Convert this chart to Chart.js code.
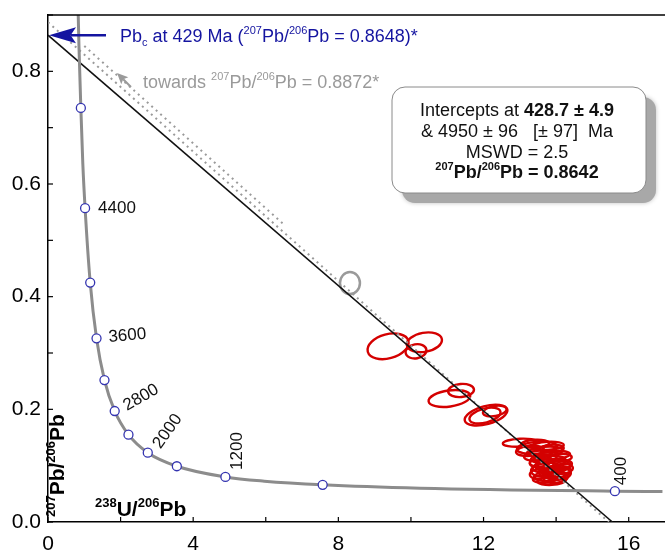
<!DOCTYPE html>
<html>
<head>
<meta charset="utf-8">
<script src="https://cdn.jsdelivr.net/npm/chart.js@4.4.0/dist/chart.umd.min.js"></script>
<style>
  html, body { margin: 0; padding: 0; background: #fff; }
</style>
</head>
<body>
<canvas id="twChart" width="665" height="553"></canvas>
<script>
// concordia curve (238U/206Pb vs 207Pb/206Pb)
const concX = [0.806, 0.853, 0.905, 0.960, 1.022, 1.163, 1.337, 1.556, 1.838, 2.217, 2.749, 3.550, 4.888, 5.959, 7.568, 10.25, 15.62, 16.93];
const concY = [0.974, 0.845, 0.735, 0.635, 0.557, 0.425, 0.326, 0.252, 0.197, 0.155, 0.123, 0.099, 0.080, 0.0725, 0.066, 0.060, 0.0547, 0.0540];

// age markers on the concordia (Ma)
const markerAge = [4800, 4400, 4000, 3600, 3200, 2800, 2400, 2000, 1600, 1200, 800, 400];
const markerX = [0.905, 1.022, 1.163, 1.337, 1.556, 1.838, 2.217, 2.749, 3.550, 4.888, 7.568, 15.62];
const markerY = [0.735, 0.557, 0.425, 0.326, 0.252, 0.197, 0.155, 0.123, 0.099, 0.080, 0.066, 0.0547];

// regression line and the dotted alternative
const discX = [0, 15.55];
const discY = [0.8642, 0];
const altX = [0, 15.45];
const altY = [0.8872, 0];
const alt2X = [1.0, 6.5];
const alt2Y = [0.845, 0.528];

// error ellipses: centre, semi-axes (data units), tilt (deg)
const ellX  = [9.37, 10.37, 10.14, 11.06, 11.38, 12.07, 12.04, 12.31,
               13.00, 13.47, 13.69, 13.50, 13.88, 13.77, 13.88, 13.72, 13.97, 13.83, 13.69, 14.05, 13.99, 13.55, 14.10,
               13.42, 13.77, 13.28, 13.97, 13.66, 14.16, 13.55, 13.88, 13.77, 14.05, 13.69];
const ellY  = [0.3119, 0.3191, 0.3030, 0.2193, 0.2335, 0.1898, 0.1889, 0.1970,
               0.1408, 0.1319, 0.1248, 0.1176, 0.1301, 0.1070, 0.0980, 0.0927, 0.0891, 0.0820, 0.0766, 0.1016, 0.0784, 0.1052, 0.1141,
               0.1388, 0.1352, 0.1263, 0.1192, 0.1121, 0.0943, 0.0854, 0.0730, 0.0979, 0.0854, 0.1032];
const ellRX = [0.579, 0.490, 0.289, 0.579, 0.358, 0.606, 0.440, 0.330,
               0.468, 0.551, 0.496, 0.386, 0.330, 0.496, 0.523, 0.413, 0.441, 0.441, 0.330, 0.386, 0.330, 0.275, 0.330,
               0.386, 0.441, 0.386, 0.413, 0.358, 0.303, 0.275, 0.386, 0.330, 0.358, 0.248];
const ellRY = [0.0214, 0.0169, 0.0125, 0.0143, 0.0116, 0.0160, 0.0125, 0.0089,
               0.0071, 0.0107, 0.0089, 0.0089, 0.0071, 0.0107, 0.0107, 0.0125, 0.0107, 0.0089, 0.0071, 0.0089, 0.0089, 0.0071, 0.0071,
               0.0071, 0.0071, 0.0089, 0.0071, 0.0071, 0.0089, 0.0089, 0.0071, 0.0071, 0.0107, 0.0089];
const ellRot = [-15, -10, -10, -8, -5, -15, -15, -10,
                -3, -5, -5, -5, -3, -5, -5, -5, -5, -5, -3, -5, -5, -3, -3,
                -3, -3, -5, -3, -3, -5, -5, -3, -3, -5, -5];

// excluded analysis (grey)
const greyX = [8.32];
const greyY = [0.4242];
const greyRX = [0.275];
const greyRY = [0.0196];

const FONT = '"Liberation Sans", Arial, sans-serif';

// where the age labels sit relative to their marker
const ageLabelStyle = {
    4400: { dx: 13, dy: 0, rot: 0 },
    3600: { dx: 12, dy: -1, rot: -5 },
    2800: { dx: 10, dy: -4, rot: -30 },
    2000: { dx: 9, dy: -6, rot: -55 },
    1200: { dx: 12, dy: -7, rot: -90 },
    400: { dx: 6, dy: -6, rot: -90 }
};

function toPts(xs, ys) {
    return xs.map((x, i) => ({ x: x, y: ys[i] }));
}

// draw text made of pieces, some superscript / subscript / bold
function richText(ctx, x, y, parts, size, color, align) {
    const fontFor = p => {
        const s = (p.sup || p.sub) ? Math.round(size * 0.62) : size;
        return (p.b ? 'bold ' : '') + s + 'px ' + FONT;
    };
    let total = 0;
    parts.forEach(p => { ctx.font = fontFor(p); total += ctx.measureText(p.t).width; });
    let cx = x;
    if (align === 'center') cx = x - total / 2;
    if (align === 'right') cx = x - total;
    ctx.fillStyle = color;
    ctx.textAlign = 'left';
    ctx.textBaseline = 'alphabetic';
    parts.forEach(p => {
        ctx.font = fontFor(p);
        let oy = 0;
        if (p.sup) oy = -size * 0.42;
        if (p.sub) oy = size * 0.22;
        ctx.fillText(p.t, cx, y + oy);
        cx += ctx.measureText(p.t).width;
    });
}

function arrow(ctx, x1, y1, x2, y2, head, half, color, width) {
    const a = Math.atan2(y2 - y1, x2 - x1);
    ctx.save();
    ctx.strokeStyle = color;
    ctx.fillStyle = color;
    ctx.lineWidth = width;
    ctx.beginPath();
    ctx.moveTo(x1, y1);
    ctx.lineTo(x2 - Math.cos(a) * head * 0.8, y2 - Math.sin(a) * head * 0.8);
    ctx.stroke();
    ctx.translate(x2, y2);
    ctx.rotate(a);
    ctx.beginPath();
    ctx.moveTo(0, 0);
    ctx.lineTo(-head, -half);
    ctx.lineTo(-head * 0.8, 0);
    ctx.lineTo(-head, half);
    ctx.closePath();
    ctx.fill();
    ctx.restore();
}

const ellipsePlugin = {
    id: 'ellipses',
    beforeDatasetsDraw(chart) {
        const ctx = chart.ctx;
        const xs = chart.scales.x, ys = chart.scales.y;
        const area = chart.chartArea;
        const drawSet = (cx, cy, rx, ry, rot, color, w) => {
            ctx.save();
            ctx.beginPath();
            ctx.rect(area.left, area.top, area.right - area.left, area.bottom - area.top);
            ctx.clip();
            ctx.strokeStyle = color;
            ctx.lineWidth = w;
            for (let i = 0; i < cx.length; i++) {
                const px = xs.getPixelForValue(cx[i]);
                const py = ys.getPixelForValue(cy[i]);
                const prx = Math.abs(xs.getPixelForValue(cx[i] + rx[i]) - px);
                const pry = Math.abs(ys.getPixelForValue(cy[i] + ry[i]) - py);
                ctx.beginPath();
                ctx.ellipse(px, py, prx, pry, (rot ? rot[i] : 0) * Math.PI / 180, 0, Math.PI * 2);
                ctx.stroke();
            }
            ctx.restore();
        };
        drawSet(greyX, greyY, greyRX, greyRY, null, '#9a9a9a', 2.5);
        drawSet(ellX, ellY, ellRX, ellRY, ellRot, '#d40000', 2.4);
    }
};

const framePlugin = {
    id: 'frame',
    afterDraw(chart) {
        const ctx = chart.ctx;
        const a = chart.chartArea;
        const xs = chart.scales.x, ys = chart.scales.y;
        ctx.save();
        ctx.strokeStyle = '#000';
        ctx.lineWidth = 1.5;
        // top border
        ctx.beginPath();
        ctx.moveTo(a.left, a.top);
        ctx.lineTo(a.right, a.top);
        ctx.stroke();
        // inward tick marks
        ctx.lineWidth = 1.2;
        xs.ticks.forEach(t => {
            const px = xs.getPixelForValue(t.value);
            ctx.beginPath();
            ctx.moveTo(px, a.bottom);
            ctx.lineTo(px, a.bottom - 5);
            ctx.stroke();
        });
        ys.ticks.forEach(t => {
            const py = ys.getPixelForValue(t.value);
            ctx.beginPath();
            ctx.moveTo(a.left, py);
            ctx.lineTo(a.left + 5, py);
            ctx.stroke();
        });

        // age labels
        ctx.fillStyle = '#111';
        ctx.font = '17px ' + FONT;
        ctx.textAlign = 'left';
        ctx.textBaseline = 'middle';
        markerAge.forEach((age, i) => {
            const st = ageLabelStyle[age];
            if (!st) return;
            const px = xs.getPixelForValue(markerX[i]) + st.dx;
            const py = ys.getPixelForValue(markerY[i]) + st.dy;
            ctx.save();
            ctx.translate(px, py);
            ctx.rotate(st.rot * Math.PI / 180);
            ctx.fillText(String(age), 0, 0);
            ctx.restore();
        });

        // axis titles inside the plot
        richText(ctx, 95, 516, [
            { t: '238', sup: 1, b: 1 }, { t: 'U/', b: 1 }, { t: '206', sup: 1, b: 1 }, { t: 'Pb', b: 1 }
        ], 21, '#000', 'left');
        ctx.save();
        ctx.translate(64, 517);
        ctx.rotate(-Math.PI / 2);
        richText(ctx, 0, 0, [
            { t: '207', sup: 1, b: 1 }, { t: 'Pb/', b: 1 }, { t: '206', sup: 1, b: 1 }, { t: 'Pb', b: 1 }
        ], 21, '#000', 'left');
        ctx.restore();

        // common Pb arrow and label
        const y0 = ys.getPixelForValue(discY[0]);
        arrow(ctx, 106, y0, a.left + 1, y0, 27, 8, '#1414a0', 2.5);
        richText(ctx, 120, y0 + 6.5, [
            { t: 'Pb' }, { t: 'c', sub: 1 }, { t: ' at 429 Ma (' }, { t: '207', sup: 1 }, { t: 'Pb/' },
            { t: '206', sup: 1 }, { t: 'Pb = 0.8648)*' }
        ], 18, '#1414a0', 'left');

        // grey arrow to the alternative intercept
        arrow(ctx, 131, 87, 117, 73, 11, 5, '#9a9a9a', 2);
        richText(ctx, 143, 88, [
            { t: 'towards ' }, { t: '207', sup: 1 }, { t: 'Pb/' }, { t: '206', sup: 1 }, { t: 'Pb = 0.8872*' }
        ], 18, '#9a9a9a', 'left');

        // results box with shadow
        ctx.save();
        ctx.fillStyle = '#a8a8a8';
        ctx.shadowColor = 'rgba(0,0,0,0.25)';
        ctx.shadowBlur = 4;
        ctx.beginPath();
        ctx.roundRect(402, 97, 254, 106, 13);
        ctx.fill();
        ctx.restore();
        ctx.save();
        ctx.fillStyle = '#fff';
        ctx.strokeStyle = '#8a8a8a';
        ctx.lineWidth = 1;
        ctx.beginPath();
        ctx.roundRect(392, 87, 254, 106, 13);
        ctx.fill();
        ctx.stroke();
        ctx.restore();
        richText(ctx, 517, 116, [{ t: 'Intercepts at ' }, { t: '428.7 ± 4.9', b: 1 }], 18, '#111', 'center');
        richText(ctx, 517, 137, [{ t: '& 4950 ± 96   [± 97]  Ma' }], 18, '#111', 'center');
        richText(ctx, 517, 158, [{ t: 'MSWD = 2.5' }], 18, '#111', 'center');
        richText(ctx, 517, 178, [
            { t: '207', sup: 1, b: 1 }, { t: 'Pb/', b: 1 }, { t: '206', sup: 1, b: 1 }, { t: 'Pb = 0.8642', b: 1 }
        ], 18, '#111', 'center');
        ctx.restore();
    }
};

const twConfig = {
    type: 'scatter',
    data: {
        datasets: [
            {
                label: 'ages',
                data: toPts(markerX, markerY),
                pointRadius: 4.5,
                pointBackgroundColor: '#fff',
                pointBorderColor: '#3434b0',
                pointBorderWidth: 1.3,
                showLine: false
            },
            {
                label: 'concordia',
                data: toPts(concX, concY),
                showLine: true,
                pointRadius: 0,
                borderColor: '#8c8c8c',
                borderWidth: 3,
                cubicInterpolationMode: 'monotone'
            },
            {
                label: 'discordia',
                data: toPts(discX, discY),
                showLine: true,
                pointRadius: 0,
                borderColor: '#111',
                borderWidth: 1.5
            },
            {
                label: 'alt',
                data: toPts(altX, altY),
                showLine: true,
                pointRadius: 0,
                borderColor: '#9a9a9a',
                borderWidth: 2,
                borderDash: [2, 4]
            },
            {
                label: 'alt2',
                data: toPts(alt2X, alt2Y),
                showLine: true,
                pointRadius: 0,
                borderColor: '#9a9a9a',
                borderWidth: 2,
                borderDash: [2, 4]
            }
        ]
    },
    options: {
        responsive: false,
        animation: false,
        layout: { autoPadding: false, padding: { top: 15, right: 0, left: 0, bottom: 0 } },
        scales: {
            x: {
                type: 'linear',
                min: 0,
                max: 17,
                afterFit: s => { s.height = 31; s.paddingLeft = 0; s.paddingRight = 0; },
                grid: { display: true, drawOnChartArea: false, drawTicks: false },
                border: { display: true, color: '#000', width: 1.5 },
                ticks: {
                    stepSize: 2,
                    includeBounds: false,
                    autoSkip: false,
                    maxRotation: 0,
                    padding: 10,
                    color: '#000',
                    font: { family: FONT, size: 21 },
                    callback: v => (v % 4 === 0 ? String(v) : '')
                }
            },
            y: {
                type: 'linear',
                min: 0,
                max: 0.9,
                afterFit: s => { s.width = 48; s.paddingTop = 0; s.paddingBottom = 0; },
                grid: { display: true, drawOnChartArea: false, drawTicks: false },
                border: { display: true, color: '#000', width: 1.5 },
                ticks: {
                    stepSize: 0.1,
                    includeBounds: false,
                    autoSkip: false,
                    padding: 7,
                    color: '#000',
                    font: { family: FONT, size: 21 },
                    callback: v => (Math.round(v * 10) % 2 === 0 ? v.toFixed(1) : '')
                }
            }
        },
        plugins: {
            legend: { display: false },
            tooltip: { enabled: false }
        }
    },
    plugins: [ellipsePlugin, framePlugin]
};

const twCtx = document.getElementById('twChart').getContext('2d');
new Chart(twCtx, twConfig);
</script>
</body>
</html>
